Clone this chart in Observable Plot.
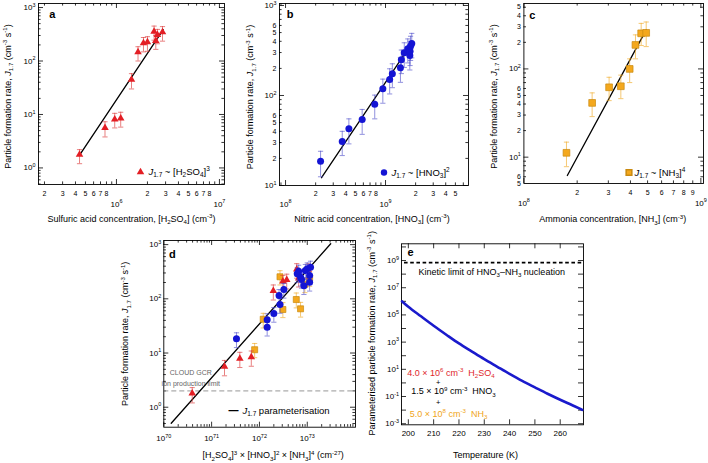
<!DOCTYPE html>
<html><head><meta charset="utf-8">
<script src="https://cdn.jsdelivr.net/npm/d3@7"></script>
<script src="https://cdn.jsdelivr.net/npm/@observablehq/plot@0.6"></script>
<style>
html,body{margin:0;padding:0;background:#fff;}
#fig{position:relative;width:708px;height:463px;overflow:hidden;background:#fff;}
#fig svg{position:absolute;overflow:visible;}
</style></head><body><div id="fig"></div>
<script>
// ---------------- DATA ----------------
// Panel a: H2SO4 series
const aH2SO4 = [4.38e5, 7.74e5, 9.62e5, 1.10e6, 1.40e6, 1.62e6, 1.83e6, 2.00e6, 2.32e6, 2.41e6, 2.50e6, 2.80e6];
const aJ     = [1.77, 5.6, 8.1, 8.5, 45, 147, 216, 225, 356, 239, 309, 346];
const aJlo   = [1.2, 3.8, 5.6, 5.8, 30, 100, 148, 152, 245, 165, 210, 235];
const aJhi   = [2.2, 7.3, 10.5, 11, 58, 185, 275, 285, 450, 300, 390, 440];
const aFitX  = [4.4e5, 2.85e6];
const aFitJ  = [1.75, 385];

// Panel b: HNO3 series
const bHNO3 = [2.24e8, 3.69e8, 4.3e8, 5.84e8, 7.8e8, 9.4e8, 1.10e9, 1.17e9, 1.41e9, 1.44e9, 1.54e9, 1.67e9, 1.75e9, 1.78e9, 1.83e9, 1.76e9];
const bJ    = [18.6, 30.8, 42.7, 54, 80, 119, 151, 174, 203, 249, 298, 330, 278, 353, 378, 310];
const bJlo  = [12.5, 21.5, 29, 37, 55, 82, 104, 122, 140, 175, 205, 230, 192, 245, 262, 215];
const bJhi  = [24, 40, 55, 70, 101, 152, 198, 225, 265, 320, 385, 425, 360, 455, 490, 400];
const bFitX = [2.29e8, 1.8e9];
const bFitJ = [12.2, 370];

// Panel c: NH3 series
const cNH3 = [1.74e8, 2.43e8, 3.03e8, 3.53e8, 3.96e8, 4.27e8, 4.60e8, 4.91e8];
const cJ   = [11.2, 41.2, 61.9, 63.6, 100, 187, 253, 256];
const cJlo = [7.8, 28.8, 43.7, 46, 70, 130, 184, 179];
const cJhi = [14.8, 53.5, 80.4, 85, 130, 243, 328, 340];
const cFitX = [1.76e8, 4.91e8];
const cFitJ = [6.2, 277];

// Panel d: combined product
const dRedX = [3.93e70, 1.86e71, 3.89e71, 6.76e71, 1.95e72, 3.09e72, 3.72e72, 6.03e72, 6.61e72, 1.05e73];
const dRedJ = [1.81, 5.6, 7.9, 8.4, 140, 211, 224, 350, 240, 345];
const dRedLo = [1.2, 3.8, 5.4, 5.7, 95, 145, 152, 240, 165, 235];
const dRedHi = [2.3, 7.3, 10.3, 10.9, 180, 270, 285, 445, 305, 440];
const dOrX = [7.94e71, 1.20e72, 2.69e72, 3.09e72, 5.89e72, 7.24e72, 8.91e72, 1.12e73];
const dOrJ = [11.5, 42, 255, 63.5, 97, 65.4, 185, 240];
const dOrLo = [8.2, 29, 180, 45, 68, 46, 130, 170];
const dOrHi = [15, 54, 330, 85, 128, 86, 240, 310];
const dBlX = [3.31e71, 1.45e72, 1.45e72, 2.0e72, 2.69e72, 2.57e72, 3.24e72, 8.51e72, 1.12e73, 7.24e72, 1.12e73, 6.17e72, 6.61e72, 9.12e72, 1.0e73, 1.17e73, 7.59e72];
const dBlJ = [18.3, 29.9, 41, 53.6, 78.5, 115, 149, 174, 202, 250, 269, 289, 323, 333, 357, 383, 227];
const dBlLo = [12.6, 20.6, 28.3, 37, 54, 79, 103, 120, 139, 172, 186, 199, 223, 230, 246, 264, 157];
const dBlHi = [23.6, 38.6, 52.9, 69, 101, 148, 192, 224, 261, 322, 347, 373, 417, 430, 460, 494, 293];
const dFitX = [1.43e70, 3.09e73];
const dFitJ = [0.507, 1035];
const dGcrLimit = 2.0;

// Panel e: parameterised J vs temperature
const eT = [197.5, 200, 205, 210, 215, 220, 225, 230, 235, 240, 245, 250, 255, 260, 265, 268.7];
const eJ = [1.0e6, 4.0e5, 7.9e4, 1.6e4, 3.5e3, 8.0e2, 2.1e2, 56, 16, 4.6, 1.4, 0.47, 0.16, 0.058, 0.022, 0.0105];
const eKinetic = 7e8;

// Tick labels
const aXMajor = [1e6, 1e7];
const aXMinorLab = [2e5,3e5,4e5,5e5,6e5,7e5,8e5, 2e6,3e6,4e6,5e6,6e6,7e6,8e6];
const aYMajor = [1, 10, 100, 1000];
const bXMajor = [1e8, 1e9];
const bXMinorLab = [2e8,3e8,4e8,5e8,6e8,7e8,8e8, 2e9,3e9,4e9,5e9];
const bYMajor = [10, 100, 1000];
const bYMinorLab = [20,30,40,50,60, 200,300,400,500,600];
const cXMajor = [1e8, 1e9];
const cXMinorLab = [2e8,3e8,4e8,5e8,6e8,7e8,8e8,9e8];
const cYMajor = [10, 100];
const cYMinorLab = [5,6, 20,30,40,50,60, 200,300,400,500];
const dXMajor = [1e70, 1e71, 1e72, 1e73];
const dYMajor = [1, 10, 100, 1000];
const eXMajor = [200, 210, 220, 230, 240, 250, 260];
const eYLab = [1e-3, 1e-1, 1e1, 1e3, 1e5, 1e7, 1e9];
const eYTicks = [1e-3,1e-2,1e-1,1,1e1,1e2,1e3,1e4,1e5,1e6,1e7,1e8,1e9,1e10];

// ---------------- STYLE ----------------
const FONT = '"Liberation Sans", Arial, Helvetica, sans-serif';
const RED = "#e31e24", RED_BAR = "rgba(220,60,60,0.65)";
const BLUE = "#1414d4", BLUE_BAR = "rgba(70,70,200,0.6)";
const ORANGE = "#f4a81d", ORANGE_STROKE = "#c98a10", ORANGE_BAR = "rgba(240,170,40,0.65)";
const CAP = {draw(ctx, size){ const w = Math.sqrt(size/Math.PI); ctx.moveTo(-w,0); ctx.lineTo(w,0); }};

const fig = document.getElementById("fig");

function minors(lo, hi){
  const out=[];
  for(let e=Math.floor(Math.log10(lo)); e<=Math.ceil(Math.log10(hi)); e++)
    for(let k=2;k<=9;k++){ const v=k*Math.pow(10,e); if(v>=lo && v<=hi) out.push(v); }
  return out;
}
const inDom = (v, d) => v >= Math.min(...d)*0.9999 && v <= Math.max(...d)*1.0001;
const pow10 = v => `10^{${Math.round(Math.log10(v))}}`;
const lead = v => v.toExponential(0)[0];

function frameMarks({fw, fh, xDomain, yDomain, xMajor, xMinor, yMajor, yMinor}){
  const xs = a => a.filter(v => inDom(v, xDomain));
  const ys = a => a.filter(v => inDom(v, yDomain));
  const tk = {stroke:"#000", strokeWidth:0.8};
  const m = [];
  for (const [vals, len] of [[xs(xMajor),5],[xs(xMinor),2.6]]) {
    m.push(Plot.tickX(vals, {x:d=>d, insetTop: fh-len, ...tk}));
    m.push(Plot.tickX(vals, {x:d=>d, insetBottom: fh-len, ...tk}));
  }
  for (const [vals, len] of [[ys(yMajor),5],[ys(yMinor),2.6]]) {
    m.push(Plot.tickY(vals, {y:d=>d, insetRight: fw-len, ...tk}));
    m.push(Plot.tickY(vals, {y:d=>d, insetLeft: fw-len, ...tk}));
  }
  m.push(Plot.frame({stroke:"#000", strokeWidth:0.9}));
  return m;
}
function xLabels(vals, fmt, dy, size){
  return Plot.text(vals, {x:d=>d, text:fmt, frameAnchor:"bottom", textAnchor:"middle", lineAnchor:"middle", dy, fontSize:size});
}
function yLabels(vals, fmt, dx, size){
  return Plot.text(vals, {y:d=>d, text:fmt, frameAnchor:"left", textAnchor:"end", lineAnchor:"middle", dx, fontSize:size});
}
function series(xs, ys, lo, hi, o){
  const data = xs.map((x,i)=>({x, y:ys[i], lo:lo[i], hi:hi[i]}));
  return [
    Plot.ruleX(data, {x:"x", y1:"lo", y2:"hi", stroke:o.bar, strokeWidth:1}),
    Plot.dot(data, {x:"x", y:"hi", symbol:CAP, r:2.6, stroke:o.bar, fill:"none", strokeWidth:1}),
    Plot.dot(data, {x:"x", y:"lo", symbol:CAP, r:2.6, stroke:o.bar, fill:"none", strokeWidth:1}),
    Plot.dot(data, {x:"x", y:"y", symbol:o.symbol, r:o.r, fill:o.fill, stroke:o.stroke||"none", strokeWidth:0.7})
  ];
}
function fit(xs, ys){
  return Plot.line(xs.map((x,i)=>({x, y:ys[i]})), {x:"x", y:"y", stroke:"#000", strokeWidth:1.3});
}
function label(t, o){
  return Plot.text([t], {lineAnchor:"middle", ...o});
}
function panel({left, top, width, height, m, xType="log", xDomain, yDomain, marks}){
  const svg = Plot.plot({
    width, height,
    marginTop:m[0], marginRight:m[1], marginBottom:m[2], marginLeft:m[3],
    x:{type:xType, domain:xDomain, axis:null},
    y:{type:"log", domain:yDomain, axis:null},
    style:{fontFamily:FONT, fontSize:"9px", background:"transparent", color:"#000", overflow:"visible"},
    marks
  });
  svg.style.left = left+"px"; svg.style.top = top+"px";
  svg.style.maxWidth = "none"; svg.style.height = height+"px";
  fig.appendChild(svg);
  return svg;
}
const YTITLE = "Particle formation rate, *J*_{1.7} (cm^{-3} s^{-1})";

// ---------------- PANEL A ----------------
{
  const W=236,H=230,m=[3,12,46,38], fw=W-m[1]-m[3], fh=H-m[0]-m[2];
  const xD=[1.75e5,1.12e7], yD=[0.49,1190];
  panel({left:0, top:0, width:W, height:H, m, xDomain:xD, yDomain:yD, marks:[
    ...frameMarks({fw, fh, xDomain:xD, yDomain:yD, xMajor:aXMajor, xMinor:minors(...xD), yMajor:aYMajor, yMinor:minors(...yD)}),
    xLabels(aXMinorLab, lead, 9.5, 7),
    xLabels(aXMajor, pow10, 19.5, 8),
    yLabels(aYMajor, pow10, -3, 8),
    fit(aFitX, aFitJ),
    ...series(aH2SO4, aJ, aJlo, aJhi, {symbol:"triangle", r:2.8, fill:RED, bar:RED_BAR}),
    Plot.dot([0], {frameAnchor:"bottom-right", dx:-84, dy:-12.5, symbol:"triangle", r:2.8, fill:RED}),
    label("*J*_{1.7} ~ [H_{2}SO_{4}]^{3}", {frameAnchor:"bottom-right", textAnchor:"start", dx:-76, dy:-12.5, fontSize:9.5}),
    label("a", {frameAnchor:"top-left", textAnchor:"middle", dx:13.7, dy:10.5, fontSize:11, fontWeight:"bold"}),
    label("Sulfuric acid concentration, [H_{2}SO_{4}] (cm^{-3})", {frameAnchor:"bottom", textAnchor:"middle", dy:34.3, fontSize:9}),
    label(YTITLE, {frameAnchor:"left", textAnchor:"middle", rotate:-90, dx:-30.5, dy:2.5, fontSize:9})
  ]});
}
// ---------------- PANEL B ----------------
{
  const W=236,H=230,m=[3,4,45,43], fw=W-m[1]-m[3], fh=H-m[0]-m[2];
  const xD=[8.7e7,6.76e9], yD=[10,1052];
  panel({left:236, top:0, width:W, height:H, m, xDomain:xD, yDomain:yD, marks:[
    ...frameMarks({fw, fh, xDomain:xD, yDomain:yD, xMajor:bXMajor, xMinor:minors(...xD), yMajor:bYMajor, yMinor:minors(...yD)}),
    xLabels(bXMinorLab, lead, 8.5, 7),
    xLabels(bXMajor, pow10, 18.5, 8),
    yLabels(bYMajor, pow10, -3, 8),
    yLabels(bYMinorLab, lead, -3, 7),
    fit(bFitX, bFitJ),
    ...series(bHNO3, bJ, bJlo, bJhi, {symbol:"circle", r:3.5, fill:BLUE, bar:BLUE_BAR}),
    Plot.dot([0], {frameAnchor:"bottom-right", dx:-84.5, dy:-13, symbol:"circle", r:3.2, fill:BLUE}),
    label("*J*_{1.7} ~ [HNO_{3}]^{2}", {frameAnchor:"bottom-right", textAnchor:"start", dx:-77, dy:-13, fontSize:9.5}),
    label("b", {frameAnchor:"top-left", textAnchor:"middle", dx:10.5, dy:11, fontSize:11, fontWeight:"bold"}),
    label("Nitric acid concentration, [HNO_{3}] (cm^{-3})", {frameAnchor:"bottom", textAnchor:"middle", dx:-2, dy:33.3, fontSize:9}),
    label(YTITLE, {frameAnchor:"left", textAnchor:"middle", rotate:-90, dx:-29, dy:2.5, fontSize:9})
  ]});
}
// ---------------- PANEL C ----------------
{
  const W=236,H=230,m=[3,5,47,51.4], fw=W-m[1]-m[3], fh=H-m[0]-m[2];
  const xD=[1e8,1.035e9], yD=[5.03,551];
  panel({left:472, top:0, width:W, height:H, m, xDomain:xD, yDomain:yD, marks:[
    ...frameMarks({fw, fh, xDomain:xD, yDomain:yD, xMajor:cXMajor, xMinor:minors(...xD), yMajor:cYMajor, yMinor:minors(...yD)}),
    xLabels(cXMinorLab, lead, 9.5, 7),
    xLabels(cXMajor, pow10, 19.5, 8),
    yLabels(cYMajor, pow10, -3, 8),
    yLabels(cYMinorLab, lead, -3, 7),
    fit(cFitX, cFitJ),
    ...series(cNH3, cJ, cJlo, cJhi, {symbol:"square", r:3.8, fill:ORANGE, stroke:ORANGE_STROKE, bar:ORANGE_BAR}),
    Plot.dot([0], {frameAnchor:"bottom-right", dx:-74.5, dy:-11, symbol:"square", r:3.2, fill:ORANGE, stroke:ORANGE_STROKE}),
    label("*J*_{1.7} ~ [NH_{3}]^{4}", {frameAnchor:"bottom-right", textAnchor:"start", dx:-69, dy:-11, fontSize:9.5}),
    label("c", {frameAnchor:"top-left", textAnchor:"middle", dx:8.5, dy:12, fontSize:11, fontWeight:"bold"}),
    label("Ammonia concentration, [NH_{3}] (cm^{-3})", {frameAnchor:"bottom", textAnchor:"middle", dx:-1, dy:36, fontSize:9}),
    label(YTITLE, {frameAnchor:"left", textAnchor:"middle", rotate:-90, dx:-30, dy:3, fontSize:9})
  ]});
}
// ---------------- PANEL D ----------------
{
  const W=255,H=233,m=[10,10,36.3,53.3], fw=W-m[1]-m[3], fh=H-m[0]-m[2];
  const xD=[1e70,1.02e74], yD=[0.428,1191];
  panel({left:110, top:230, width:W, height:H, m, xDomain:xD, yDomain:yD, marks:[
    ...frameMarks({fw, fh, xDomain:xD, yDomain:yD, xMajor:dXMajor, xMinor:minors(...xD), yMajor:dYMajor, yMinor:minors(...yD)}),
    xLabels(dXMajor, pow10, 11.5, 8),
    yLabels(dYMajor, pow10, -2.5, 8),
    Plot.ruleY([dGcrLimit], {stroke:"#8a8a8a", strokeWidth:0.9, strokeDasharray:"5,3"}),
    label("CLOUD GCR", {frameAnchor:"top-left", textAnchor:"middle", dx:27, dy:132.5, fontSize:7, fill:"#666"}),
    label("ion production limit", {frameAnchor:"top-left", textAnchor:"middle", dx:27, dy:142.8, fontSize:7, fill:"#666"}),
    fit(dFitX, dFitJ),
    ...series(dOrX, dOrJ, dOrLo, dOrHi, {symbol:"square", r:3.4, fill:ORANGE, stroke:ORANGE_STROKE, bar:ORANGE_BAR}),
    ...series(dRedX, dRedJ, dRedLo, dRedHi, {symbol:"triangle", r:2.8, fill:RED, bar:RED_BAR}),
    ...series(dBlX, dBlJ, dBlLo, dBlHi, {symbol:"circle", r:3.5, fill:BLUE, bar:BLUE_BAR}),
    label("—", {frameAnchor:"bottom-right", textAnchor:"middle", dx:-122, dy:-16.5, fontSize:10, fontWeight:"bold"}),
    label("*J*_{1.7} parameterisation", {frameAnchor:"bottom-right", textAnchor:"start", dx:-113, dy:-16.5, fontSize:9.5}),
    label("d", {frameAnchor:"top-left", textAnchor:"middle", dx:8.5, dy:13.5, fontSize:11, fontWeight:"bold"}),
    label("[H_{2}SO_{4}]^{3} × [HNO_{3}]^{2} × [NH_{3}]^{4} (cm^{-27})", {frameAnchor:"bottom", textAnchor:"middle", dx:13.5, dy:28.3, fontSize:9}),
    label(YTITLE, {frameAnchor:"left", textAnchor:"middle", rotate:-90, dx:-38.3, dy:0, fontSize:9})
  ]});
}
// ---------------- PANEL E ----------------
{
  const W=343,H=233,m=[13.3,125,38.7,36], fw=W-m[1]-m[3], fh=H-m[0]-m[2];
  const xD=[197.3,269.2], yD=[10**-3.08, 10**10.23];
  panel({left:365, top:230, width:W, height:H, m, xType:"linear", xDomain:xD, yDomain:yD, marks:[
    ...frameMarks({fw, fh, xDomain:xD, yDomain:yD, xMajor:eXMajor, xMinor:[], yMajor:eYTicks, yMinor:[]}),
    xLabels(eXMajor, d=>String(d), 9, 8),
    yLabels(eYLab, pow10, -2.5, 8),
    Plot.ruleY([eKinetic], {stroke:"#000", strokeWidth:1.7, strokeDasharray:"3.6,2.6", insetLeft:3}),
    label("Kinetic limit of HNO_{3}–NH_{3} nucleation", {frameAnchor:"top-left", textAnchor:"start", dx:17, dy:28.4, fontSize:9}),
    Plot.line(eT.map((t,i)=>({t, j:eJ[i]})), {x:"t", y:"j", stroke:"#1a1acc", strokeWidth:2.6, curve:"monotone-x"}),
    label("4.0 × 10^{6} cm^{-3}  H_{2}SO_{4}", {frameAnchor:"top-left", textAnchor:"start", dx:5.7, dy:129.5, fontSize:9, fill:"#e0262b"}),
    label("+", {frameAnchor:"top-left", textAnchor:"middle", dx:36.7, dy:139.2, fontSize:7.5}),
    label("1.5 × 10^{9} cm^{-3}  HNO_{3}", {frameAnchor:"top-left", textAnchor:"start", dx:9.7, dy:147.8, fontSize:9}),
    label("+", {frameAnchor:"top-left", textAnchor:"middle", dx:36.7, dy:158.8, fontSize:7.5}),
    label("5.0 × 10^{8} cm^{-3}  NH_{3}", {frameAnchor:"top-left", textAnchor:"start", dx:8.3, dy:170, fontSize:9, fill:"#f0a51a"}),
    label("e", {frameAnchor:"top-left", textAnchor:"middle", dx:9, dy:8.5, fontSize:11, fontWeight:"bold"}),
    label("Temperature (K)", {frameAnchor:"bottom", textAnchor:"middle", dx:-7, dy:30.7, fontSize:9}),
    label("Parameterised particle formation rate, *J*_{1.7} (cm^{-3} s^{-1})", {frameAnchor:"left", textAnchor:"middle", rotate:-90, dx:-29.3, dy:-1, fontSize:9})
  ]});
}

// ---------------- rich text (sub/superscripts, italics) ----------------
function richify(root){
  const NS = "http://www.w3.org/2000/svg";
  root.querySelectorAll("text").forEach(t => {
    if (t.querySelector("tspan")) return;
    const s = t.textContent;
    if (!/(\^\{|_\{|\*)/.test(s)) return;
    const fs = parseFloat(getComputedStyle(t).fontSize) || 9;
    t.textContent = "";
    const re = /\^\{([^}]*)\}|_\{([^}]*)\}|\*([^*]*)\*|([^\^_*]+|[\^_*])/g;
    let mm, cur = 0;
    while ((mm = re.exec(s))) {
      let txt, shift = 0, small = false, ital = false;
      if (mm[1] !== undefined) { txt = mm[1]; shift = -0.42*fs; small = true; }
      else if (mm[2] !== undefined) { txt = mm[2]; shift = 0.24*fs; small = true; }
      else if (mm[3] !== undefined) { txt = mm[3]; ital = true; }
      else txt = mm[4];
      const ts = document.createElementNS(NS, "tspan");
      const d = shift - cur; if (Math.abs(d) > 1e-6) ts.setAttribute("dy", d.toFixed(2)); cur = shift;
      if (small) ts.setAttribute("font-size", (fs*0.68).toFixed(2));
      if (ital) ts.setAttribute("font-style", "italic");
      ts.textContent = txt;
      t.appendChild(ts);
    }
  });
}
richify(fig);
</script></body></html>
